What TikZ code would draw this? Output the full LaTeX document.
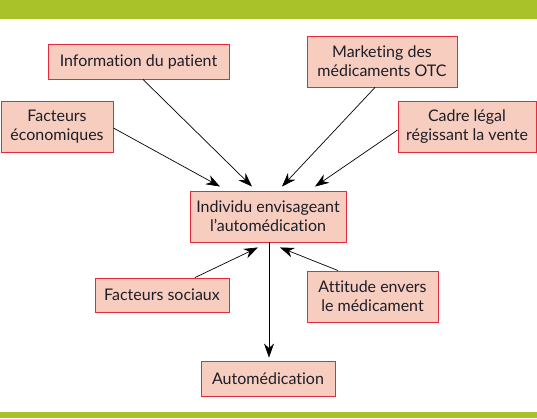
\documentclass[tikz,border=0pt]{standalone}
\usepackage{fontspec}
\setmainfont{Lato}[Ligatures=NoCommon]
\usetikzlibrary{arrows.meta}
\definecolor{bandgreen}{HTML}{A9C22A}
\definecolor{boxfill}{HTML}{F6CDBE}
\definecolor{boxline}{HTML}{E42A3C}
\definecolor{txt}{HTML}{1E1E28}
\tikzset{
  box/.style={draw=boxline, fill=boxfill, line width=0.9pt, inner sep=0pt,
    align=center, text=txt, font=\fontsize{16}{19}\selectfont},
  arr/.style={draw=black, line width=0.7pt, -{Stealth[length=14pt,width=10pt,inset=4.5pt]}}
}
\begin{document}
\begin{tikzpicture}[x=1pt,y=-1pt]
\useasboundingbox (0,0) rectangle (537,418);
\fill[white] (0,0) rectangle (537,418);
\fill[bandgreen] (0,0) rectangle (537,19);
\fill[bandgreen] (0,412) rectangle (537,418);

\node[box, minimum width=181pt, minimum height=35pt] (info) at (138.5,61.5) {Information du patient};
\node[box, minimum width=112pt, minimum height=51pt] (eco) at (57,126.5) {Facteurs\\économiques};
\node[box, minimum width=150pt, minimum height=51pt] (mkt) at (382,61.5) {Marketing des\\médicaments OTC};
\node[box, minimum width=138pt, minimum height=51pt] (cadre) at (467,126.5) {Cadre légal\\régissant la vente};
\node[box, minimum width=156pt, minimum height=51pt] (ind) at (268,216.5) {Individu envisageant\\l’automédication};
\node[box, minimum width=134pt, minimum height=34pt] (soc) at (162,295) {Facteurs sociaux};
\node[box, minimum width=131pt, minimum height=51pt] (att) at (372.5,296.5) {Attitude envers\\le médicament};
\node[box, minimum width=134pt, minimum height=35pt] (auto) at (268,378.5) {Automédication};

\draw[arr] ([xshift=4.5pt]info.south) -- ([xshift=-16pt,yshift=4pt]ind.north);
\draw[arr] ([yshift=-1.5pt]eco.east) -- ([xshift=-48pt,yshift=4pt]ind.north);
\draw[arr] ([xshift=-7pt]mkt.south) -- ([xshift=14pt,yshift=4pt]ind.north);
\draw[arr] ([yshift=-3.5pt]cadre.west) -- ([xshift=47pt,yshift=4pt]ind.north);
\draw[arr] ([xshift=33pt]soc.north) -- ([xshift=-10pt,yshift=-5pt]ind.south);
\draw[arr] ([xshift=-34.5pt]att.north) -- ([xshift=12pt,yshift=-5pt]ind.south);
\draw[arr, shorten >=3pt] ([xshift=1pt]ind.south) -- ([xshift=1pt]auto.north);
\end{tikzpicture}
\end{document}
